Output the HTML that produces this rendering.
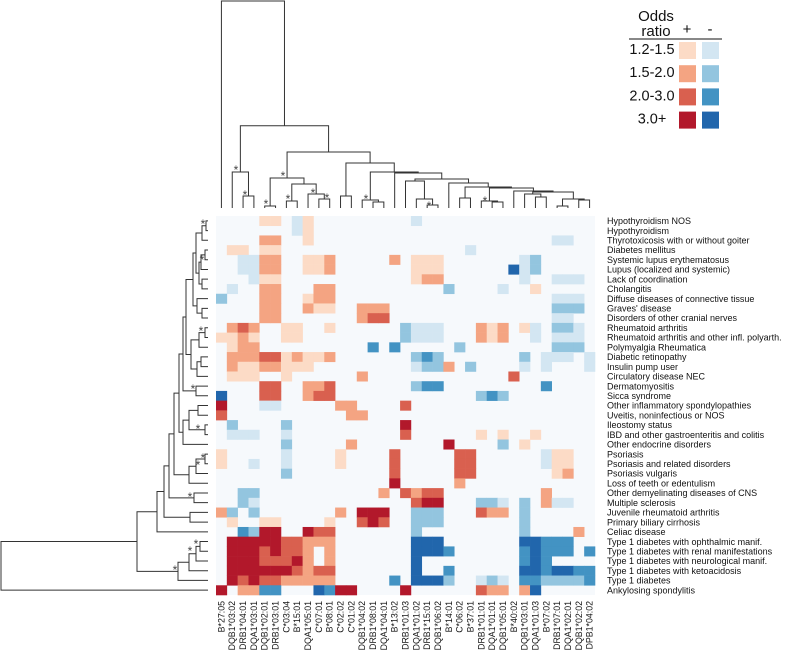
<!DOCTYPE html>
<html><head><meta charset="utf-8"><style>
html,body{margin:0;padding:0;background:#fff;}
svg{display:block;font-family:"Liberation Sans",sans-serif;}
</style></head><body>
<svg id="chart" width="800" height="672" viewBox="0 0 800 672" xmlns="http://www.w3.org/2000/svg">
<g id="topdendro"></g>
<g id="leftdendro"></g>
<g id="stars"></g>
<rect x="216" y="216" width="379" height="379" fill="#f6f9fc"/>
<g id="cells"></g>
<g id="rowlabels" font-size="9" fill="#111"></g>
<g id="collabels" font-size="8.8" fill="#111"></g>
<g id="legend">
  <text x="656" y="21" font-size="15" text-anchor="middle" fill="#111">Odds</text>
  <text x="656" y="36" font-size="15" text-anchor="middle" fill="#111">ratio</text>
  <text x="687" y="34" font-size="15" text-anchor="middle" fill="#111">+</text>
  <text x="710" y="34" font-size="15" text-anchor="middle" fill="#111">-</text>
  <line x1="629" y1="39" x2="722" y2="39" stroke="#111" stroke-width="1"/>
</g>
</svg>
<script>
const rowNames = ["Hypothyroidism NOS","Hypothyroidism","Thyrotoxicosis with or without goiter","Diabetes mellitus","Systemic lupus erythematosus","Lupus (localized and systemic)","Lack of coordination","Cholangitis","Diffuse diseases of connective tissue","Graves' disease","Disorders of other cranial nerves","Rheumatoid arthritis","Rheumatoid arthritis and other infl. polyarth.","Polymyalgia Rheumatica","Diabetic retinopathy","Insulin pump user","Circulatory disease NEC","Dermatomyositis","Sicca syndrome","Other inflammatory spondylopathies","Uveitis, noninfectious or NOS","Ileostomy status","IBD and other gastroenteritis and colitis","Other endocrine disorders","Psoriasis","Psoriasis and related disorders","Psoriasis vulgaris","Loss of teeth or edentulism","Other demyelinating diseases of CNS","Multiple sclerosis","Juvenile rheumatoid arthritis","Primary biliary cirrhosis","Celiac disease","Type 1 diabetes with ophthalmic manif.","Type 1 diabetes with renal manifestations","Type 1 diabetes with neurological manif.","Type 1 diabetes with ketoacidosis","Type 1 diabetes","Ankylosing spondylitis"];
const colNames = ["B*27:05","DQB1*03:02","DRB1*04:01","DQA1*03:01","DQB1*02:01","DRB1*03:01","C*03:04","B*15:01","DQA1*05:01","C*07:01","B*08:01","C*02:02","C*01:02","DQB1*04:02","DRB1*08:01","DQA1*04:01","B*13:02","DRB1*01:03","DQA1*01:02","DRB1*15:01","DQB1*06:02","B*14:01","C*06:02","B*37:01","DRB1*01:01","DQA1*01:01","DQB1*05:01","B*40:02","DQB1*03:01","DQA1*01:03","B*07:02","DRB1*07:01","DQA1*02:01","DQB1*02:02","DPB1*04:02"];
// odds-ratio levels per cell: 0 none, 1-4 positive levels, a-d negative levels 1-4
const cellRows = [
"00001 10a10 00000 000a0 00000 00000 00000",
"00000 00a10 00000 00000 00000 00000 00000",
"00002 20010 00000 00000 00000 00000 0aa00",
"01101 10000 00000 00000 000a0 00000 00000",
"00aa2 20011 20000 02011 10000 000ab 00000",
"00aa2 20011 20000 00011 10000 00dab 00000",
"000a1 10000 00000 00012 20000 000a0 0aaa0",
"0a002 20002 20000 00000 0b000 0a001 00000",
"b0002 20012 20000 00000 00000 00000 0aaa0",
"00002 20021 10022 20000 00000 00000 0bbb0",
"00002 20000 00023 30000 00000 00000 0aa00",
"02320 01100 10000 00baa a0002 1201a 0bba0",
"11210 01100 00000 00baa a0002 1200a 0aaa0",
"01220 00000 0000c 0c000 00b00 00000 0bbb0",
"02223 31211 20000 000bc b0000 000b0 aaa0a",
"02112 21110 00000 000ab b20b0 000a0 a000a",
"01110 01000 00020 00000 00000 00300 00000",
"00003 30022 30000 000bc c0000 00000 c0000",
"d0003 30023 30000 00000 0000b cb000 00000",
"4000a a0000 02200 00300 00000 00000 00000",
"30000 00000 00220 00000 00000 00000 00000",
"0b000 0b000 00000 00400 00000 00000 00000",
"0aaa0 0a000 00000 00300 00001 01001 00000",
"00000 0b000 00200 00000 04000 0b010 00000",
"10000 0a000 01000 03000 00330 00000 a1100",
"100a0 0a000 01000 03000 00330 00000 a1100",
"00000 0b000 00000 03000 00330 00000 01200",
"00000 00000 00000 04000 00200 00000 00000",
"00bb0 00000 00000 20323 30000 00000 20000",
"00ba0 00000 00000 00034 4000b ba0b0 2aa00",
"2b0b0 00000 02044 400bb b0003 220b0 00000",
"01001 10000 10034 300bb b0000 000b0 00000",
"00cb4 40043 30000 000b0 00000 000b0 00020",
"04444 43322 20000 000dd d0000 000dd ccc00",
"04443 43320 20000 000dd dc000 000cd ccc0c",
"04443 33420 20000 000d0 00000 000cd c0000",
"04444 44323 30000 000d0 0c000 000dd cddcc",
"04343 32222 20000 0c0dd db00a ba0cc bbbbc",
"4022c c000d c4400 00400 00003 2202d 00000"
];
const legendLabels = ["1.2-1.5","1.5-2.0","2.0-3.0","3.0+"];
const posColors = ["#fcdbc6","#f4a482","#d9604f","#b2182b"];
const negColors = ["#d3e6f2","#93c5df","#4393c3","#2166ac"];

// dendrogram structure: [left, right, mergeHeight]
const cQ = [27,[[28,[29,30,197],194],[[31,32,206],[33,34,200],199],192],191];
const cR = [[24,[25,26,202],201],cQ,188];
const cS = [[22,23,198],cR,187];
const cT = [21,cS,183];
const cP = [17,[18,[19,20,205],199],181];
const cU = [cP,cT,179];
const cV = [16,cU,173];
const cW = [[13,[14,15,202],200],cV,172];
const cZ2 = [[11,12,196],cW,163];
const cZ1 = [[4,5,206],[[6,7,201],[8,[9,10,199],194],184],178];
const cY = [cZ1,cZ2,152];
const cX = [[1,[2,3,196],172],cY,125.7];
const colTree = [0,cX,1];

const rA10 = [[[[0,1,206],2,202],[[[3,4,205],5,201],[6,7,202],199],196],[8,[9,10,202],197],193];
const rA16 = [[[11,12,205],13,199],[[14,15,201],16,197],191];
const rA18 = [[rA10,rA16,186],[17,18,196],183];
const rA23 = [[[19,20,198],[21,22,205],189],23,183];
const rI = [rA18,rA23,179];
const rJ = [[[24,25,205],26,196],27,189];
const rG = [rI,rJ,174];
const rE = [rG,[28,29,194],169];
const rD = [rE,[30,31,190],164];
const rB = [rD,32,157];
const rC = [[[[33,34,200],35,196],36,189],37,178];
const rowTree = [[rB,rC,137],38,1];

const NS = "http://www.w3.org/2000/svg";
const X0 = 216, Y0 = 216, CW = 379/35, RH = 379/39;
function xScale(c){ return X0 + c*CW; }
function yScale(r){ return Y0 + r*RH; }
function mk(tag, attrs, parent){ const e=document.createElementNS(NS,tag); for(const k in attrs) e.setAttribute(k, attrs[k]); parent.appendChild(e); return e; }

const cellsG = document.getElementById('cells');
cellRows.forEach((rowStr, r) => {
  const s = rowStr.replace(/ /g,'');
  for (let c = 0; c < s.length; c++) {
    const ch = s[c];
    if (ch === '0') continue;
    let fill;
    if (ch >= '1' && ch <= '4') fill = posColors[+ch - 1];
    else fill = negColors[ch.charCodeAt(0) - 97];
    const el = mk('rect', {x: xScale(c).toFixed(2), y: yScale(r).toFixed(2), width: (CW+0.3).toFixed(2), height: (RH+0.3).toFixed(2), fill: fill}, cellsG);
    
    
  }
});

const rl = document.getElementById('rowlabels');
rowNames.forEach((n, r) => {
  const t = mk('text', {x: 607, y: (yScale(r) + RH/2 + 3.2).toFixed(2)}, rl);
  t.textContent = n;
  
  
});
const cl = document.getElementById('collabels');
colNames.forEach((n, c) => {
  const cx = xScale(c) + CW/2 + 3;
  const t = mk('text', {x: 0, y: 0, transform: 'translate(' + cx.toFixed(2) + ',601) rotate(-90)', 'text-anchor': 'end'}, cl);
  t.textContent = n;
  
  
});

const lg = document.getElementById('legend');
legendLabels.forEach((lab, i) => {
  const y = 42 + i*23.2;
  const t = mk('text', {x: 652, y: y + 12, 'font-size': 14.5, 'text-anchor': 'middle', fill: '#111'}, lg);
  t.textContent = lab;
  
  
  const a = mk('rect', {x: 679, y: y, width: 17, height: 17, fill: posColors[i]}, lg);
  
  
  const b = mk('rect', {x: 702, y: y, width: 17, height: 17, fill: negColors[i]}, lg);
  
  
});

function drawTree(node, g, posFn, leafH, horiz){
  if (typeof node === 'number') return {p: posFn(node), h: leafH};
  const a = drawTree(node[0], g, posFn, leafH, horiz);
  const b = drawTree(node[1], g, posFn, leafH, horiz);
  const h = node[2];
  let d;
  if (!horiz) d = 'M' + a.p + ',' + a.h + 'V' + h + 'H' + b.p + 'V' + b.h;
  else d = 'M' + a.h + ',' + a.p + 'H' + h + 'V' + b.p + 'H' + b.h;
  const el = mk('path', {d: d, fill: 'none', stroke: '#333', 'stroke-width': 1}, g);
  
  
  return {p: (a.p + b.p)/2, h: h};
}
drawTree(colTree, document.getElementById('topdendro'), c => xScale(c) + CW/2, 208, false);
drawTree(rowTree, document.getElementById('leftdendro'), r => yScale(r) + RH/2, 208, true);

const starPts = [[236,168],[245,193],[266,202],[283,174],[288,197],[313,191],[327,196],[366,197],[429,204],[485,199],
 [203,222],[202,258],[201,329],[193,387],[198,427],[203,456],[198,463],[190,495],[196,542],[190,549],[175,568]];
const sg = document.getElementById('stars');
starPts.forEach(p => {
  const t = mk('text', {x: p[0], y: p[1] + 6, 'font-size': 12, 'text-anchor': 'middle', fill: '#444'}, sg);
  t.textContent = '*';
  
  
});
</script>
</body></html>
